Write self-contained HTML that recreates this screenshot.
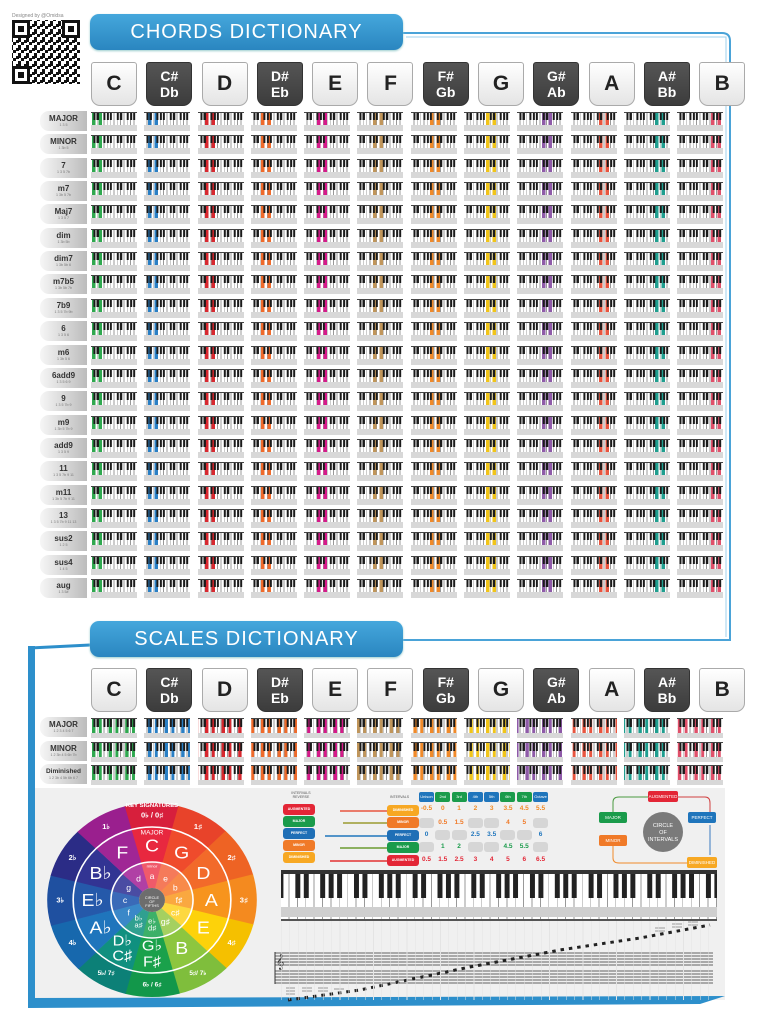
<!DOCTYPE html>
<html><head><meta charset="utf-8">
<style>
*{margin:0;padding:0;box-sizing:content-box}
body{width:768px;height:1024px;background:#fff;position:relative;overflow:hidden;font-family:"Liberation Sans",sans-serif}
.ab{position:absolute}
.ban{position:absolute;left:90px;width:313px;height:36px;border-radius:9px;background:linear-gradient(#45a7dc,#2a86c0);color:#fff;font-size:20px;letter-spacing:1px;line-height:36px;text-align:center;box-shadow:0 1px 2px #9cc}
.hd{position:absolute;left:91px;display:flex}
.hd div{width:44px;height:42px;margin-right:9.3px;border:1px solid #aaa;border-radius:3px 3px 9px 9px;background:linear-gradient(#fff,#e4e4e4);font-weight:bold;font-size:21px;color:#222;text-align:center;line-height:42px}
.hd div.s{background:linear-gradient(#555,#3c3c3c);border-color:#333;color:#fff;font-size:14px;line-height:16px;padding-top:0;display:flex;flex-direction:column;justify-content:center}
.row{position:absolute;left:40px;display:flex;align-items:flex-start}
.lab{display:flex;flex-direction:column;justify-content:center;align-items:center;width:47px;height:20px;margin:-1px 4px 0 0;background:linear-gradient(90deg,#f6f6f6,#bcbcbc);border-radius:9px 0 0 9px;font-weight:bold;font-size:8px;color:#333;line-height:8px}
.lab small{font-size:3.6px;font-weight:normal;color:#777;line-height:4px}
.row i{display:block;width:46px;height:12px;margin-right:7.3px;border-top:1px solid #444;border-bottom:6px solid #d8d8d8;
background:linear-gradient(90deg,transparent 2.3px,#1a1a1a 2.3px 4.3px,transparent 4.3px 5.7px,#1a1a1a 5.7px 7.7px,transparent 7.7px 12.3px,#1a1a1a 12.3px 14.3px,transparent 14.3px 15.7px,#1a1a1a 15.7px 17.7px,transparent 17.7px 19px,#1a1a1a 19px 21px,transparent 21px) 0 0/23.33px 7px repeat-x,
linear-gradient(90deg,var(--c) 0 3.3px,transparent 3.3px 6.6px,var(--c) 6.6px 9.9px,transparent 9.9px) var(--o) 0/10px 100% no-repeat,
repeating-linear-gradient(90deg,#fff 0 2.6px,#999 2.6px 3.33px)}
.srow i{height:14px;border-bottom:5px solid #d8d8d8;background:linear-gradient(90deg,transparent 2.3px,#1a1a1a 2.3px 4.3px,transparent 4.3px 5.7px,#1a1a1a 5.7px 7.7px,transparent 7.7px 12.3px,#1a1a1a 12.3px 14.3px,transparent 14.3px 15.7px,#1a1a1a 15.7px 17.7px,transparent 17.7px 19px,#1a1a1a 19px 21px,transparent 21px) 0 0/23.33px 8px repeat-x,
linear-gradient(90deg,var(--c) 0 3.3px,transparent 3.3px 6.6px,var(--c) 6.6px 9.9px,transparent 9.9px 13.3px) var(--o) 0/16.6px 100% repeat-x,
repeating-linear-gradient(90deg,#fff 0 2.6px,#999 2.6px 3.33px)}
.row i:nth-of-type(1){--c:#2fa84f;--o:1px}
.row i:nth-of-type(2){--c:#2a7fc4;--o:4px}
.row i:nth-of-type(3){--c:#d7282f;--o:7px}
.row i:nth-of-type(4){--c:#ef6a2a;--o:10px}
.row i:nth-of-type(5){--c:#d6198a;--o:13px}
.row i:nth-of-type(6){--c:#c0955a;--o:16px}
.row i:nth-of-type(7){--c:#f08a2a;--o:19px}
.row i:nth-of-type(8){--c:#f0c419;--o:22px}
.row i:nth-of-type(9){--c:#8e5aa8;--o:25px}
.row i:nth-of-type(10){--c:#e8553f;--o:28px}
.row i:nth-of-type(11){--c:#1f9e8f;--o:31px}
.row i:nth-of-type(12){--c:#e0506a;--o:34px}
.pill{position:absolute;width:32px;height:11px;border-radius:3px;color:#fff;font-size:3.5px;text-align:center;line-height:11px;font-weight:bold}
.ivh{position:absolute;left:419px;top:792px;display:flex}
.ivh span{width:15px;height:10px;margin-right:1.3px;border-radius:2px;color:#fff;font-size:4px;line-height:10px;text-align:center;background:#1f75bc}
.ivh span.g{background:#1a9b4b}
.ivr{position:absolute;left:419px;display:flex;font-size:6.5px;font-weight:bold}
.ivr span{width:15px;height:10px;margin-right:1.3px;line-height:10px;text-align:center}
.ivr span.x{background:#d6d6d6;border-radius:3px}
.box{position:absolute;height:11px;border-radius:2px;color:#fff;font-size:4.5px;text-align:center;line-height:11px}
</style></head><body>

<svg class="ab" style="left:0;top:0" width="768" height="1024" viewBox="0 0 768 1024">
<defs><pattern id="qr" width="8" height="8" patternUnits="userSpaceOnUse"><rect width="8" height="8" fill="#fff"/><rect x="0" y="0" width="3" height="3" fill="#111"/><rect x="5" y="2" width="3" height="3" fill="#111"/><rect x="2" y="5" width="3" height="3" fill="#111"/><rect x="3" y="0" width="2" height="2" fill="#111"/></pattern></defs>
<text x="12" y="17" font-size="5" fill="#888">Designed by @Omidsa</text>
<rect x="12" y="20" width="68" height="64" fill="url(#qr)"/>
<g fill="#111"><rect x="12" y="20" width="18" height="18"/><rect x="62" y="20" width="18" height="18"/><rect x="12" y="66" width="18" height="18"/></g>
<g fill="#fff"><rect x="15" y="23" width="12" height="12"/><rect x="65" y="23" width="12" height="12"/><rect x="15" y="69" width="12" height="12"/></g>
<g fill="#111"><rect x="18" y="26" width="6" height="6"/><rect x="68" y="26" width="6" height="6"/><rect x="18" y="72" width="6" height="6"/></g>
<path d="M403,33 L722,33 Q730,33 730,41 L730,640 L403,640" fill="none" stroke="#4aa3d8" stroke-width="2"/>
<path d="M406,37 L726,37 L726,637" fill="none" stroke="#9fd0ee" stroke-width="1"/>
<rect x="35" y="788" width="690" height="212" fill="#f0f0f0"/>
<path d="M30,648 L90,645" stroke="#2d8fcb" stroke-width="3"/>
<rect x="28" y="646" width="7" height="360" fill="#2d8fcb"/>
<path d="M28,998 L725,996 L700,1004 L28,1008 Z" fill="#2d8fcb"/>
<g transform="translate(152,900) scale(1.08,1)">
<g fill="none" stroke-width="24">
<circle r="85" pathLength="12" stroke-dasharray="1 11" transform="rotate(-105)" stroke="#d71f3c"/>
<circle r="85" pathLength="12" stroke-dasharray="1 11" transform="rotate(-75)" stroke="#e8432a"/>
<circle r="85" pathLength="12" stroke-dasharray="1 11" transform="rotate(-45)" stroke="#ee6324"/>
<circle r="85" pathLength="12" stroke-dasharray="1 11" transform="rotate(-15)" stroke="#f48a1f"/>
<circle r="85" pathLength="12" stroke-dasharray="1 11" transform="rotate(15)" stroke="#f5c000"/>
<circle r="85" pathLength="12" stroke-dasharray="1 11" transform="rotate(45)" stroke="#7fbe3c"/>
<circle r="85" pathLength="12" stroke-dasharray="1 11" transform="rotate(75)" stroke="#12974a"/>
<circle r="85" pathLength="12" stroke-dasharray="1 11" transform="rotate(105)" stroke="#0c8077"/>
<circle r="85" pathLength="12" stroke-dasharray="1 11" transform="rotate(135)" stroke="#1768ad"/>
<circle r="85" pathLength="12" stroke-dasharray="1 11" transform="rotate(165)" stroke="#1f50a0"/>
<circle r="85" pathLength="12" stroke-dasharray="1 11" transform="rotate(195)" stroke="#2b2c86"/>
<circle r="85" pathLength="12" stroke-dasharray="1 11" transform="rotate(225)" stroke="#9a1f8e"/>
</g>
<g fill="none" stroke-width="35">
<circle r="55.5" pathLength="12" stroke-dasharray="1 11" transform="rotate(-105)" stroke="#e8283f"/>
<circle r="55.5" pathLength="12" stroke-dasharray="1 11" transform="rotate(-75)" stroke="#ef4b2c"/>
<circle r="55.5" pathLength="12" stroke-dasharray="1 11" transform="rotate(-45)" stroke="#f26a2a"/>
<circle r="55.5" pathLength="12" stroke-dasharray="1 11" transform="rotate(-15)" stroke="#f7941d"/>
<circle r="55.5" pathLength="12" stroke-dasharray="1 11" transform="rotate(15)" stroke="#fdd20a"/>
<circle r="55.5" pathLength="12" stroke-dasharray="1 11" transform="rotate(45)" stroke="#8dc63f"/>
<circle r="55.5" pathLength="12" stroke-dasharray="1 11" transform="rotate(75)" stroke="#1aa14b"/>
<circle r="55.5" pathLength="12" stroke-dasharray="1 11" transform="rotate(105)" stroke="#10907f"/>
<circle r="55.5" pathLength="12" stroke-dasharray="1 11" transform="rotate(135)" stroke="#1f75bc"/>
<circle r="55.5" pathLength="12" stroke-dasharray="1 11" transform="rotate(165)" stroke="#2559aa"/>
<circle r="55.5" pathLength="12" stroke-dasharray="1 11" transform="rotate(195)" stroke="#323493"/>
<circle r="55.5" pathLength="12" stroke-dasharray="1 11" transform="rotate(225)" stroke="#a02695"/>
</g>
<g fill="none" stroke-width="26">
<circle r="25" pathLength="12" stroke-dasharray="1 11" transform="rotate(-105)" stroke="#f05a6a"/>
<circle r="25" pathLength="12" stroke-dasharray="1 11" transform="rotate(-75)" stroke="#f57a5a"/>
<circle r="25" pathLength="12" stroke-dasharray="1 11" transform="rotate(-45)" stroke="#f88a4a"/>
<circle r="25" pathLength="12" stroke-dasharray="1 11" transform="rotate(-15)" stroke="#faa840"/>
<circle r="25" pathLength="12" stroke-dasharray="1 11" transform="rotate(15)" stroke="#fdd840"/>
<circle r="25" pathLength="12" stroke-dasharray="1 11" transform="rotate(45)" stroke="#a5d060"/>
<circle r="25" pathLength="12" stroke-dasharray="1 11" transform="rotate(75)" stroke="#3cb068"/>
<circle r="25" pathLength="12" stroke-dasharray="1 11" transform="rotate(105)" stroke="#30a090"/>
<circle r="25" pathLength="12" stroke-dasharray="1 11" transform="rotate(135)" stroke="#3a88c8"/>
<circle r="25" pathLength="12" stroke-dasharray="1 11" transform="rotate(165)" stroke="#3a6ab8"/>
<circle r="25" pathLength="12" stroke-dasharray="1 11" transform="rotate(195)" stroke="#4a4ca3"/>
<circle r="25" pathLength="12" stroke-dasharray="1 11" transform="rotate(225)" stroke="#b040a5"/>
</g>
<circle r="73" fill="none" stroke="#fff" stroke-width="1.5"/>
<circle r="38" fill="none" stroke="#fff" stroke-width="1.5"/>
<circle r="12" fill="#6d6d6d"/>
<g fill="#fff" text-anchor="middle" dominant-baseline="central">
<text y="-2" font-size="3.6">CIRCLE</text><text y="2" font-size="3.6">OF</text><text y="6" font-size="3.6">FIFTHS</text>
<g font-size="18">
<text y="-55">C</text><text x="27.5" y="-47.6">G</text><text x="47.6" y="-27.5">D</text><text x="55">A</text><text x="47.6" y="27.5">E</text><text x="27.5" y="47.6">B</text>
<text y="46" font-size="15">G♭</text><text y="62" font-size="15">F♯</text>
<text x="-27.5" y="41" font-size="15">D♭</text><text x="-27.5" y="56" font-size="15">C♯</text>
<text x="-47.6" y="27.5">A♭</text><text x="-55">E♭</text><text x="-47.6" y="-27.5">B♭</text><text x="-27.5" y="-47.6">F</text>
</g>
<g font-size="7" font-weight="bold">
<text y="-85">0♭ / 0♯</text><text y="-94" font-size="5.5">KEY SIGNATURES</text>
<text x="42.5" y="-73.6">1♯</text><text x="73.6" y="-42.5">2♯</text><text x="85">3♯</text><text x="73.6" y="42.5">4♯</text>
<text x="42.5" y="73.6" font-size="6">5♯/ 7♭</text><text y="85" font-size="6">6♭ / 6♯</text><text x="-42.5" y="73.6" font-size="6">5♭/ 7♯</text>
<text x="-73.6" y="42.5">4♭</text><text x="-85">3♭</text><text x="-73.6" y="-42.5">2♭</text><text x="-42.5" y="-73.6">1♭</text>
</g>
<text y="-67" font-size="6">MAJOR</text><text y="-34" font-size="4">minor</text>
<g font-size="8">
<text y="-24">a</text><text x="12.5" y="-21.6">e</text><text x="21.6" y="-12.5">b</text><text x="25">f♯</text><text x="21.6" y="12.5">c♯</text><text x="12.5" y="21.6">g♯</text>
<text y="21" font-size="7">e♭</text><text y="28" font-size="7">d♯</text><text x="-12.5" y="18" font-size="7">b♭</text><text x="-12.5" y="25" font-size="7">a♯</text>
<text x="-21.6" y="12.5">f</text><text x="-25">c</text><text x="-21.6" y="-12.5">g</text><text x="-12.5" y="-21.6">d</text>
</g></g></g>
<g stroke-width="1.5" fill="none">
<path d="M340,811 L387,811" stroke="#e8553f"/><path d="M343,823 L387,823" stroke="#9a9a30"/>
<path d="M325,836 L387,836" stroke="#1f75bc"/><path d="M340,848 L387,848" stroke="#6a9a30"/>
<path d="M330,861 L387,861" stroke="#e33030"/>
</g>
<path d="M613,815 L613,802 Q613,797 619,797 L655,797" stroke="#4a9a40" fill="none" stroke-width="1"/>
<path d="M670,797 L705,797 Q710,797 710,803 L710,815" stroke="#d04040" fill="none" stroke-width="1"/>
<path d="M710,825 L710,855" stroke="#3a7ac0" fill="none" stroke-width="1"/>
<path d="M613,845 L613,858 Q613,863 619,863 L690,863" stroke="#f08a2a" fill="none" stroke-width="1"/>
<circle cx="663" cy="832" r="20" fill="#7a7a7a"/>
<g fill="#fff" font-size="5.5" text-anchor="middle"><text x="663" y="827">CIRCLE</text><text x="663" y="834">OF</text><text x="663" y="841">INTERVALS</text></g>
<g stroke="#333" stroke-width="0.7">
<path d="M275,953H713M275,956H713M275,959H713M275,962H713M275,965H713M275,971H713M275,974H713M275,977H713M275,980H713M275,983H713"/>
<path d="M275,952V984" stroke-width="1"/>
</g>
<text x="276" y="966" font-size="14" fill="#333">𝄞</text>
<path d="M288,1000 L360,990 L470,967 L560,950 L640,938 L710,925" fill="none" stroke="#222" stroke-width="3" stroke-dasharray="3.5 4.9"/>
<g stroke="#444" stroke-width="0.6"><path d="M286,988H295M286,991H295M286,994H295M302,988H312M302,991H312M318,988H328M318,991H328M334,989H344M655,928H665M655,931H665M672,924H682M672,927H682M688,922H698M688,925H698M704,920H714"/></g>
</svg>

<div class="ban" style="top:14px">CHORDS DICTIONARY</div>
<div class="ban" style="top:621px">SCALES DICTIONARY</div>

<div class="hd" style="top:62px"><div>C</div><div class="s">C#<br>Db</div><div>D</div><div class="s">D#<br>Eb</div><div>E</div><div>F</div><div class="s">F#<br>Gb</div><div>G</div><div class="s">G#<br>Ab</div><div>A</div><div class="s">A#<br>Bb</div><div>B</div></div>
<div class="hd" style="top:668px"><div>C</div><div class="s">C#<br>Db</div><div>D</div><div class="s">D#<br>Eb</div><div>E</div><div>F</div><div class="s">F#<br>Gb</div><div>G</div><div class="s">G#<br>Ab</div><div>A</div><div class="s">A#<br>Bb</div><div>B</div></div>

<div class="row" style="top:112px"><b class="lab">MAJOR<small>1 3 5</small></b><i></i><i></i><i></i><i></i><i></i><i></i><i></i><i></i><i></i><i></i><i></i><i></i></div>
<div class="row" style="top:135px"><b class="lab">MINOR<small>1 3b 5</small></b><i></i><i></i><i></i><i></i><i></i><i></i><i></i><i></i><i></i><i></i><i></i><i></i></div>
<div class="row" style="top:159px"><b class="lab">7<small>1 3 5 7b</small></b><i></i><i></i><i></i><i></i><i></i><i></i><i></i><i></i><i></i><i></i><i></i><i></i></div>
<div class="row" style="top:182px"><b class="lab">m7<small>1 3b 5 7b</small></b><i></i><i></i><i></i><i></i><i></i><i></i><i></i><i></i><i></i><i></i><i></i><i></i></div>
<div class="row" style="top:205px"><b class="lab">Maj7<small>1 3 5 7</small></b><i></i><i></i><i></i><i></i><i></i><i></i><i></i><i></i><i></i><i></i><i></i><i></i></div>
<div class="row" style="top:229px"><b class="lab">dim<small>1 3b 5b</small></b><i></i><i></i><i></i><i></i><i></i><i></i><i></i><i></i><i></i><i></i><i></i><i></i></div>
<div class="row" style="top:252px"><b class="lab">dim7<small>1 3b 5b 6</small></b><i></i><i></i><i></i><i></i><i></i><i></i><i></i><i></i><i></i><i></i><i></i><i></i></div>
<div class="row" style="top:275px"><b class="lab">m7b5<small>1 3b 5b 7b</small></b><i></i><i></i><i></i><i></i><i></i><i></i><i></i><i></i><i></i><i></i><i></i><i></i></div>
<div class="row" style="top:299px"><b class="lab">7b9<small>1 3 5 7b 9b</small></b><i></i><i></i><i></i><i></i><i></i><i></i><i></i><i></i><i></i><i></i><i></i><i></i></div>
<div class="row" style="top:322px"><b class="lab">6<small>1 3 5 6</small></b><i></i><i></i><i></i><i></i><i></i><i></i><i></i><i></i><i></i><i></i><i></i><i></i></div>
<div class="row" style="top:346px"><b class="lab">m6<small>1 3b 5 6</small></b><i></i><i></i><i></i><i></i><i></i><i></i><i></i><i></i><i></i><i></i><i></i><i></i></div>
<div class="row" style="top:369px"><b class="lab">6add9<small>1 3 5 6 9</small></b><i></i><i></i><i></i><i></i><i></i><i></i><i></i><i></i><i></i><i></i><i></i><i></i></div>
<div class="row" style="top:392px"><b class="lab">9<small>1 3 5 7b 9</small></b><i></i><i></i><i></i><i></i><i></i><i></i><i></i><i></i><i></i><i></i><i></i><i></i></div>
<div class="row" style="top:416px"><b class="lab">m9<small>1 3b 5 7b 9</small></b><i></i><i></i><i></i><i></i><i></i><i></i><i></i><i></i><i></i><i></i><i></i><i></i></div>
<div class="row" style="top:439px"><b class="lab">add9<small>1 3 5 9</small></b><i></i><i></i><i></i><i></i><i></i><i></i><i></i><i></i><i></i><i></i><i></i><i></i></div>
<div class="row" style="top:462px"><b class="lab">11<small>1 3 5 7b 9 11</small></b><i></i><i></i><i></i><i></i><i></i><i></i><i></i><i></i><i></i><i></i><i></i><i></i></div>
<div class="row" style="top:486px"><b class="lab">m11<small>1 3b 5 7b 9 11</small></b><i></i><i></i><i></i><i></i><i></i><i></i><i></i><i></i><i></i><i></i><i></i><i></i></div>
<div class="row" style="top:509px"><b class="lab">13<small>1 3 5 7b 9 11 13</small></b><i></i><i></i><i></i><i></i><i></i><i></i><i></i><i></i><i></i><i></i><i></i><i></i></div>
<div class="row" style="top:532px"><b class="lab">sus2<small>1 2 5</small></b><i></i><i></i><i></i><i></i><i></i><i></i><i></i><i></i><i></i><i></i><i></i><i></i></div>
<div class="row" style="top:556px"><b class="lab">sus4<small>1 4 5</small></b><i></i><i></i><i></i><i></i><i></i><i></i><i></i><i></i><i></i><i></i><i></i><i></i></div>
<div class="row" style="top:579px"><b class="lab">aug<small>1 3 5#</small></b><i></i><i></i><i></i><i></i><i></i><i></i><i></i><i></i><i></i><i></i><i></i><i></i></div>

<div class="row srow" style="top:718px"><b class="lab">MAJOR<small>1 2 3 4 5 6 7</small></b><i></i><i></i><i></i><i></i><i></i><i></i><i></i><i></i><i></i><i></i><i></i><i></i></div>
<div class="row srow" style="top:742px"><b class="lab">MINOR<small>1 2 3b 4 5 6b 7b</small></b><i></i><i></i><i></i><i></i><i></i><i></i><i></i><i></i><i></i><i></i><i></i><i></i></div>
<div class="row srow" style="top:765px"><b class="lab" style="font-size:6.5px">Diminished<small>1 2 3b 4 5b 6b 6 7</small></b><i></i><i></i><i></i><i></i><i></i><i></i><i></i><i></i><i></i><i></i><i></i><i></i></div>

<div class="ab" style="left:286px;top:791px;font-size:3.5px;color:#555;width:30px;text-align:center">INTERVALS<br>REVERSE</div>
<div class="ab" style="left:390px;top:795px;font-size:3.5px;color:#555">INTERVALS</div>
<div class="pill" style="left:283px;top:804px;background:#e32636">AUGMENTED</div>
<div class="pill" style="left:283px;top:816px;background:#1a9b4b">MAJOR</div>
<div class="pill" style="left:283px;top:828px;background:#1f6fb6">PERFECT</div>
<div class="pill" style="left:283px;top:840px;background:#f07a28">MINOR</div>
<div class="pill" style="left:283px;top:852px;background:#f7a823">DIMINISHED</div>
<div class="pill" style="left:387px;top:805px;background:#f7a823">DIMINISHED</div>
<div class="pill" style="left:387px;top:817px;background:#f07a28">MINOR</div>
<div class="pill" style="left:387px;top:830px;background:#1f6fb6">PERFECT</div>
<div class="pill" style="left:387px;top:842px;background:#1a9b4b">MAJOR</div>
<div class="pill" style="left:387px;top:855px;background:#e32636">AUGMENTED</div>
<div class="ivh"><span>Unison</span><span class="g">2nd</span><span class="g">3rd</span><span>4th</span><span>5th</span><span class="g">6th</span><span class="g">7th</span><span>Octave</span></div>
<div class="ivr" style="top:804px;color:#f08a24"><span>-0.5</span><span>0</span><span>1</span><span>2</span><span>3</span><span>3.5</span><span>4.5</span><span>5.5</span></div>
<div class="ivr" style="top:818px;color:#f07a28"><span class="x"></span><span>0.5</span><span>1.5</span><span class="x"></span><span class="x"></span><span>4</span><span>5</span><span class="x"></span></div>
<div class="ivr" style="top:830px;color:#1f75bc"><span>0</span><span class="x"></span><span class="x"></span><span>2.5</span><span>3.5</span><span class="x"></span><span class="x"></span><span>6</span></div>
<div class="ivr" style="top:842px;color:#1a9b4b"><span class="x"></span><span>1</span><span>2</span><span class="x"></span><span class="x"></span><span>4.5</span><span>5.5</span><span class="x"></span></div>
<div class="ivr" style="top:855px;color:#e32636"><span>0.5</span><span>1.5</span><span>2.5</span><span>3</span><span>4</span><span>5</span><span>6</span><span>6.5</span></div>
<div class="box" style="left:648px;top:791px;width:30px;background:#e32636">AUGMENTED</div>
<div class="box" style="left:688px;top:812px;width:28px;background:#1f75bc">PERFECT</div>
<div class="box" style="left:687px;top:857px;width:30px;background:#f7a823">DIMINISHED</div>
<div class="box" style="left:599px;top:812px;width:28px;background:#1a9b4b">MAJOR</div>
<div class="box" style="left:599px;top:835px;width:28px;background:#f07a28">MINOR</div>

<div class="ab" style="left:281px;top:920px;width:436px;height:80px;background:repeating-linear-gradient(90deg,#e4e4e4 0 0.6px,transparent 0.6px 8.38px)"></div>
<div class="ab" style="left:281px;top:870px;width:436px;height:45px;border-top:4px solid #333;background:
linear-gradient(90deg,transparent 5.9px,#222 5.9px 10.9px,transparent 10.9px 14.3px,#222 14.3px 19.3px,transparent 19.3px 31px,#222 31px 36px,transparent 36px 39.4px,#222 39.4px 44.4px,transparent 44.4px 47.8px,#222 47.8px 52.8px,transparent 52.8px) 8.38px 0/58.67px 24px repeat-x,
linear-gradient(transparent 33px,#cfcfcf 33px 43px,transparent 43px),
repeating-linear-gradient(90deg,#fff 0 7.6px,#999 7.6px 8.38px);border-bottom:2px solid #555"></div>
</body></html>
